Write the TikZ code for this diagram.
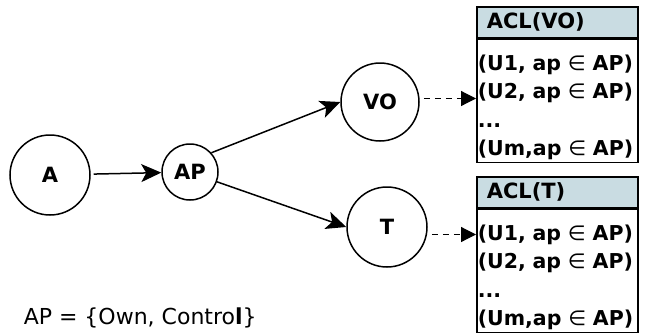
\documentclass[tikz,border=0pt]{standalone}
\usepackage{fontspec}
\setmainfont{DejaVu Sans}
\usetikzlibrary{arrows.meta}
\definecolor{aclhead}{RGB}{201,220,226}
\newcommand{\acllist}{\rule{0pt}{29pt}(U1, ap \textmd{∈} AP)\\(U2, ap \textmd{∈} AP)\\...\\(Um,ap \textmd{∈} AP)}
\begin{document}
\begin{tikzpicture}[x=1pt,y=-1pt,line width=1.5pt,
  state/.style={draw,circle,inner sep=0pt,font=\fontsize{21}{25}\selectfont\bfseries},
  hdr/.style={draw,fill=aclhead,anchor=north west,minimum width=161pt,minimum height=31pt,inner xsep=10pt,text width=141pt,align=left,font=\fontsize{21}{25}\selectfont\bfseries},
  acl/.style={draw,anchor=north west,minimum height=123pt,inner xsep=1pt,inner ysep=2pt,text width=159pt,align=left,font=\fontsize{20.5}{28.5}\selectfont\bfseries},
  arr/.style={-{Stealth[length=20pt,width=18pt,inset=5pt]}},
  dasharr/.style={line width=1.2pt,dash pattern=on 6pt off 5pt,shorten <=4pt,-{Triangle[length=15pt,width=15pt]}}]
\useasboundingbox (0,0) rectangle (645,333);
\node[state,minimum size=80pt] (A) at (50,175) {A};
\node[state,minimum size=56pt] (AP) at (190,172) {AP};
\node[state,minimum size=78pt] (VO) at (380,102) {VO};
\node[state,minimum size=80pt] (T) at (387,227) {T};
\node[hdr] (aclvo) at (476,6) {ACL(VO)};
\node[acl] (listvo) at (aclvo.south west) {\acllist};
\node[hdr] (aclt) at (476,176) {ACL(T)};
\node[acl] (listt) at (aclt.south west) {\acllist};
\coordinate (vin) at ([yshift=-60pt]listvo.north west);
\coordinate (tin) at ([yshift=-26pt]listt.north west);
\draw[arr,shorten <=3pt] (A) -- (AP);
\draw[arr] (AP.42) -- (VO.west);
\draw[arr] (AP.-20) -- (T.west);
\draw[dasharr] (vin -| VO.east) -- (vin);
\draw[dasharr] (tin -| T.east) -- (tin);
\node[anchor=west,inner sep=0pt,font=\fontsize{22}{26}\selectfont] (apset) at (23,318) {AP = \{Own, Contro\textbf{l}\}};
\end{tikzpicture}
\end{document}
